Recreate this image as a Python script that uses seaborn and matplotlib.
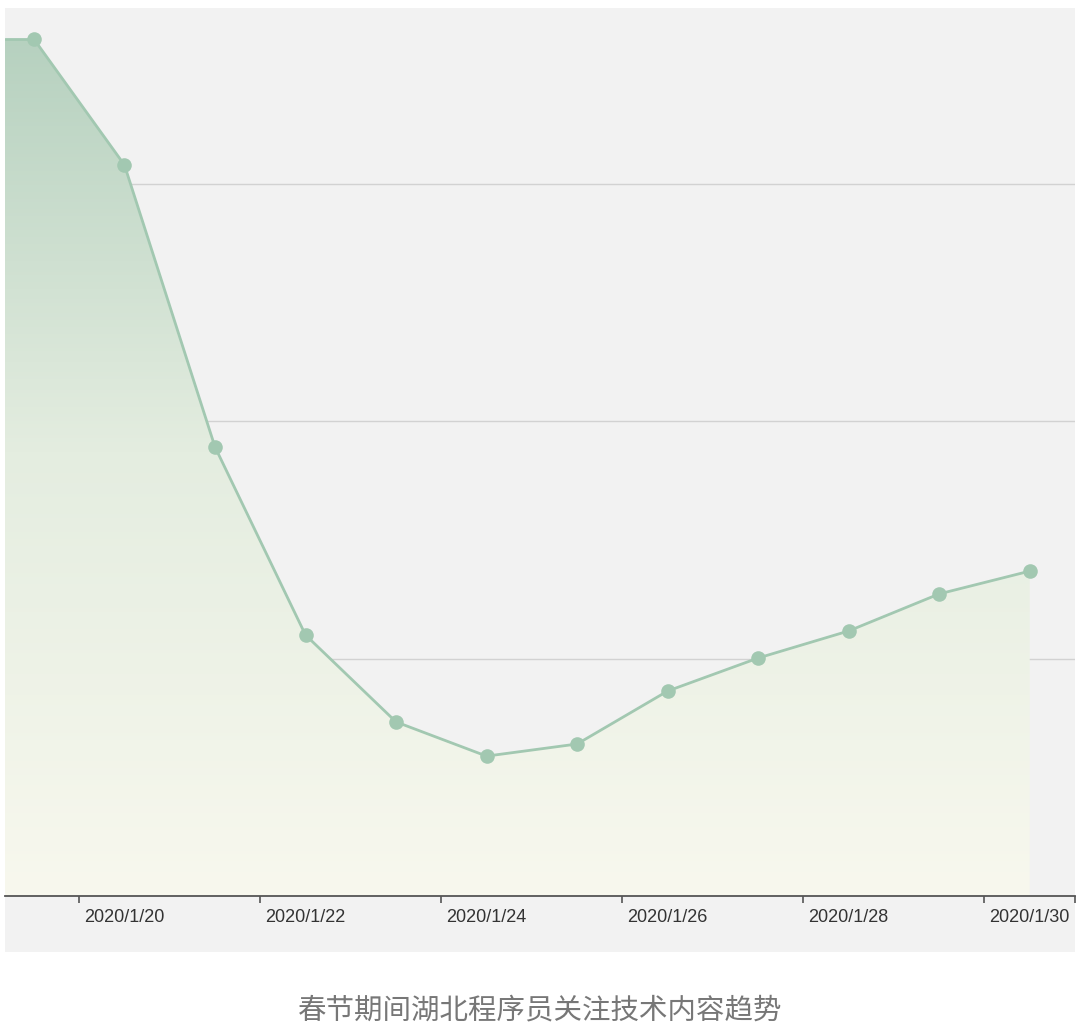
import numpy as np
import pandas as pd
import matplotlib
matplotlib.use("Agg")
import matplotlib.pyplot as plt
import matplotlib.dates as mdates
import matplotlib.transforms as mtransforms
from matplotlib.patches import Rectangle
from matplotlib.colors import LinearSegmentedColormap
import seaborn as sns

# %% data (no y labels, so arbitrary units: gridlines at 1000/2000/3000)
days = ["2020-01-19", "2020-01-20", "2020-01-21", "2020-01-22", "2020-01-23", "2020-01-24",
        "2020-01-25", "2020-01-26", "2020-01-27", "2020-01-28", "2020-01-29", "2020-01-30"]
trend = [3608, 3078, 1891, 1099, 733, 589, 640, 863, 1002, 1116, 1272, 1368]
tick_days = ["2020-01-20", "2020-01-22", "2020-01-24", "2020-01-26", "2020-01-28", "2020-01-30"]
title = "春节期间湖北程序员关注技术内容趋势"

df = pd.DataFrame({"date": pd.to_datetime(days) + pd.Timedelta(hours=12), "value": trend})

# %%
sns.set_style("white")
plt.rcParams["font.family"] = ["Liberation Sans", "Noto Sans CJK SC", "DejaVu Sans"]

line_c = "#a2c8b1"
fig = plt.figure(figsize=(10.8, 10.34), dpi=100)
fig.patch.set_facecolor("white")

W, H = 1080, 1034
# grey panel behind plot + tick labels
fig.patches.append(Rectangle((5 / W, (H - 952) / H), 1070 / W, (952 - 8) / H,
                             transform=fig.transFigure, facecolor="#f2f2f2",
                             edgecolor="none", zorder=-10))
ax = fig.add_axes([5 / W, (H - 896) / H, 1070 / W, (896 - 8) / H])
ax.set_zorder(1)
ax.set_facecolor("none")

x_left = pd.Timestamp("2020-01-19 04:20")
x_right = pd.Timestamp("2020-01-31 00:00")
ymax = 3739

# area: stub from left edge to first point, then the series
xs = [x_left] + list(df["date"])
ys = [trend[0]] + trend
poly = ax.fill_between(xs, ys, 0, color="none", lw=0)
grad = np.linspace(0, 1, 256).reshape(-1, 1)
cmap = LinearSegmentedColormap.from_list("g", ["#f8f8ee", "#e4ede0", "#b3cfbd"])
im = ax.imshow(grad, aspect="auto", cmap=cmap, origin="lower",
               extent=[mdates.date2num(x_left), mdates.date2num(x_right), 0, ymax],
               zorder=1)
im.set_clip_path(poly.get_paths()[0], transform=ax.transData)

ax.plot(xs[:2], ys[:2], color=line_c, lw=2, zorder=3)
sns.lineplot(data=df, x="date", y="value", ax=ax, color=line_c, lw=2,
             marker="o", markersize=10.5, markeredgewidth=0, zorder=4)
ax.set_xlim(x_left, x_right)
ax.set_ylim(0, ymax)

# grid
ax.set_yticks([1000, 2000, 3000])
ax.yaxis.grid(True, color="#d2d2d2", lw=1)
ax.set_axisbelow(True)
ax.tick_params(axis="y", left=False, labelleft=False)

for s in ["top", "right", "left"]:
    ax.spines[s].set_visible(False)
ax.spines["bottom"].set_color("#555555")
ax.spines["bottom"].set_linewidth(1.3)

ticks = list(pd.to_datetime(tick_days)) + [x_right]
ax.set_xticks(ticks)
ax.set_xticklabels([d.strftime("%Y/%-m/%-d") for d in pd.to_datetime(tick_days)] + [""])
ax.tick_params(axis="x", bottom=True, length=5, width=1.2, color="#555555",
               labelsize=13, labelcolor="#333333", pad=4)
shift = mtransforms.ScaledTranslation(5 / 100, 0, fig.dpi_scale_trans)
for lab in ax.get_xticklabels():
    lab.set_horizontalalignment("left")
    lab.set_transform(lab.get_transform() + shift)
ax.set_xlabel("")
ax.set_ylabel("")

fig.text(0.5, (H - 1010) / H, title, ha="center", va="center", fontsize=20.5,
         color="#777777", family=["Noto Sans CJK SC", "DejaVu Sans"])

fig.savefig("out.png", dpi=100, facecolor="white")
